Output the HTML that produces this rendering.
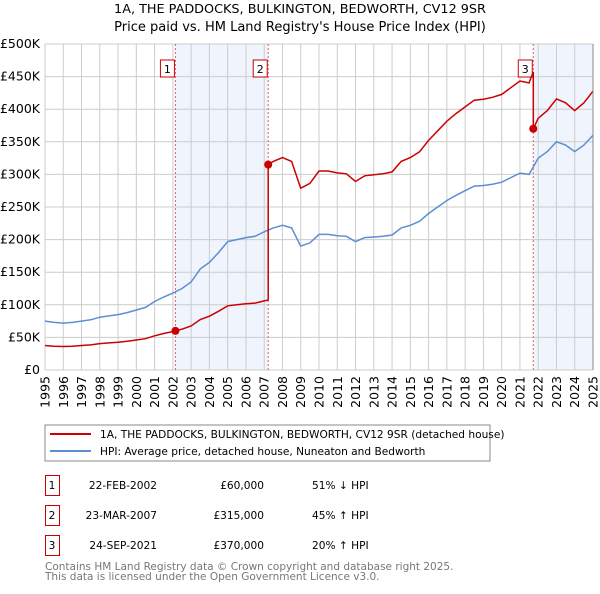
<!DOCTYPE html>
<html><head><meta charset="utf-8"><style>
body{margin:0;background:#fff;font-family:"DejaVu Sans","Liberation Sans",sans-serif;}
svg text{font-family:"DejaVu Sans","Liberation Sans",sans-serif;}
</style></head><body>
<svg id="c" width="600" height="590" viewBox="0 0 600 590" xmlns="http://www.w3.org/2000/svg">
<text x="300" y="13" text-anchor="middle" font-size="12.8">1A, THE PADDOCKS, BULKINGTON, BEDWORTH, CV12 9SR</text>
<text x="300" y="31" text-anchor="middle" font-size="13">Price paid vs. HM Land Registry's House Price Index (HPI)</text>
<g id="plot"></g>
<rect x="45" y="425" width="445" height="36" fill="#fff" stroke="#888"/>
<line x1="50" y1="434" x2="91" y2="434" stroke="#cc0000" stroke-width="2"/>
<text x="100" y="438" font-size="10.6">1A, THE PADDOCKS, BULKINGTON, BEDWORTH, CV12 9SR (detached house)</text>
<line x1="50" y1="451" x2="91" y2="451" stroke="#5b8fd4" stroke-width="2"/>
<text x="100" y="455" font-size="10.6">HPI: Average price, detached house, Nuneaton and Bedworth</text>
<g id="table" font-size="10.6"></g>
<text x="45" y="570" font-size="10.5" fill="#777">Contains HM Land Registry data © Crown copyright and database right 2025.</text>
<text x="45" y="580" font-size="10.5" fill="#777">This data is licensed under the Open Government Licence v3.0.</text>
</svg>
<script>
const hpiYears=[1995,1995.5,1996,1996.5,1997,1997.5,1998,1998.5,1999,1999.5,2000,2000.5,2001,2001.5,2002,2002.5,2003,2003.5,2004,2004.5,2005,2005.5,2006,2006.5,2007,2007.5,2008,2008.5,2009,2009.5,2010,2010.5,2011,2011.5,2012,2012.5,2013,2013.5,2014,2014.5,2015,2015.5,2016,2016.5,2017,2017.5,2018,2018.5,2019,2019.5,2020,2020.5,2021,2021.5,2022,2022.5,2023,2023.5,2024,2024.5,2025];
const hpiValues=[75,73,72,73,75,77,81,83,85,88,92,96,105,112,118,125,135,155,165,180,197,200,203,205,212,218,222,218,190,195,208,208,206,205,197,203,204,205,207,218,222,228,240,250,260,268,275,282,283,285,288,295,302,300,325,335,350,345,335,345,360];
const saleDates=[2002.14,2007.22,2021.73];
const salePrices=[60,315,370];
const saleLabels=["22-FEB-2002","23-MAR-2007","24-SEP-2021"];
const salePriceText=["£60,000","£315,000","£370,000"];
const saleHpiText=["51% ↓ HPI","45% ↑ HPI","20% ↑ HPI"];
const yTicks=[0,50,100,150,200,250,300,350,400,450,500];
const yTickLabels=["£0","£50K","£100K","£150K","£200K","£250K","£300K","£350K","£400K","£450K","£500K"];
const xTicks=[];for(let y=1995;y<=2025;y++)xTicks.push(y);

const NS="http://www.w3.org/2000/svg";
const X0=45,X1=593,Y0=370,Y1=44;
const xs=t=>X0+(t-1995)/30*(X1-X0);
const ys=v=>Y0-v/500*(Y0-Y1);
function mk(tag,attrs,parent){const e=document.createElementNS(NS,tag);for(const k in attrs)e.setAttribute(k,attrs[k]);parent.appendChild(e);return e;}
function hpiAt(t){for(let i=0;i<hpiYears.length-1;i++){if(t<=hpiYears[i+1]){const f=(t-hpiYears[i])/(hpiYears[i+1]-hpiYears[i]);return hpiValues[i]+f*(hpiValues[i+1]-hpiValues[i]);}}return hpiValues[hpiValues.length-1];}
const plot=document.getElementById('plot');
let sh=mk('rect',{x:xs(saleDates[0]),y:Y1,width:xs(saleDates[1])-xs(saleDates[0]),height:Y0-Y1,fill:'#f0f4fc'},plot);


let sh2=mk('rect',{x:xs(saleDates[2]),y:Y1,width:X1-xs(saleDates[2]),height:Y0-Y1,fill:'#f0f4fc'},plot);


yTicks.forEach((v,i)=>{
 const l=mk('line',{x1:X0,x2:X1,y1:ys(v),y2:ys(v),stroke:'#ccc'},plot);
 
 
 const t=mk('text',{x:40,y:ys(v)+4,'text-anchor':'end','font-size':12.5},plot);
 
 
 t.textContent=yTickLabels[i];
});
xTicks.forEach(y=>{
 const l=mk('line',{x1:xs(y),x2:xs(y),y1:Y1,y2:Y0,stroke:'#ccc'},plot);
 
 
 const t=mk('text',{x:0,y:0,'text-anchor':'end','font-size':12.5,transform:`translate(${xs(y)+4.5},${Y0+6}) rotate(-90)`},plot);
 
 
 t.textContent=y;
});
saleDates.forEach((d,i)=>{
 const l=mk('line',{x1:xs(d),x2:xs(d),y1:Y1,y2:Y0,stroke:'#e06060','stroke-dasharray':'2,2'},plot);
 
 
 const bx=xs(d)-15,by=60;
 const r=mk('rect',{x:bx,y:by,width:14,height:17,fill:'#fff',stroke:'#cc0000'},plot);
 
 
 const t=mk('text',{x:bx+7,y:by+13,'text-anchor':'middle','font-size':11},plot);
 
 
 t.textContent=i+1;
});
let dH=hpiYears.map((t,i)=>(i?'L':'M')+xs(t).toFixed(1)+','+ys(hpiValues[i]).toFixed(1)).join('');
const hp=mk('path',{d:dH,fill:'none',stroke:'#5b8fd4','stroke-width':1.5},plot);


const pts=[];
const ratio=t=>{let k=0;for(let i=0;i<saleDates.length;i++)if(t>=saleDates[i])k=i;return salePrices[k]/hpiAt(saleDates[k]);};
hpiYears.forEach((t,i)=>{
 saleDates.forEach((d,k)=>{if(i>0&&d>hpiYears[i-1]&&d<=t){const prev=k>0?salePrices[k-1]/hpiAt(saleDates[k-1]):salePrices[0]/hpiAt(saleDates[0]);pts.push([d,prev*hpiAt(d)]);pts.push([d,salePrices[k]]);}});
 pts.push([t,hpiValues[i]*ratio(t)]);
});
let dP=pts.map((p,i)=>(i?'L':'M')+xs(p[0]).toFixed(1)+','+ys(p[1]).toFixed(1)).join('');
const pp=mk('path',{d:dP,fill:'none',stroke:'#cc0000','stroke-width':1.5},plot);


saleDates.forEach((d,i)=>{
 const c=mk('circle',{cx:xs(d),cy:ys(salePrices[i]),r:4,fill:'#cc0000'},plot);
 
 
});
const ax=mk('line',{x1:X1,x2:X1,y1:Y1,y2:Y0,stroke:'#888'},plot);


const tb=document.getElementById('table');
saleDates.forEach((d,i)=>{
 const y=475+i*30;
 const r=mk('rect',{x:45.5,y:y+0.5,width:14,height:20,fill:'#fff',stroke:'#cc0000'},tb);
 
 
 const vals=[[52,'middle',String(i+1)],[157,'end',saleLabels[i]],[264,'end',salePriceText[i]],[312,'start',saleHpiText[i]]];
 vals.forEach(v=>{const t=mk('text',{x:v[0],y:y+14,'text-anchor':v[1]},tb);
  
  
  t.textContent=v[2];});
});
</script>
</body></html>
